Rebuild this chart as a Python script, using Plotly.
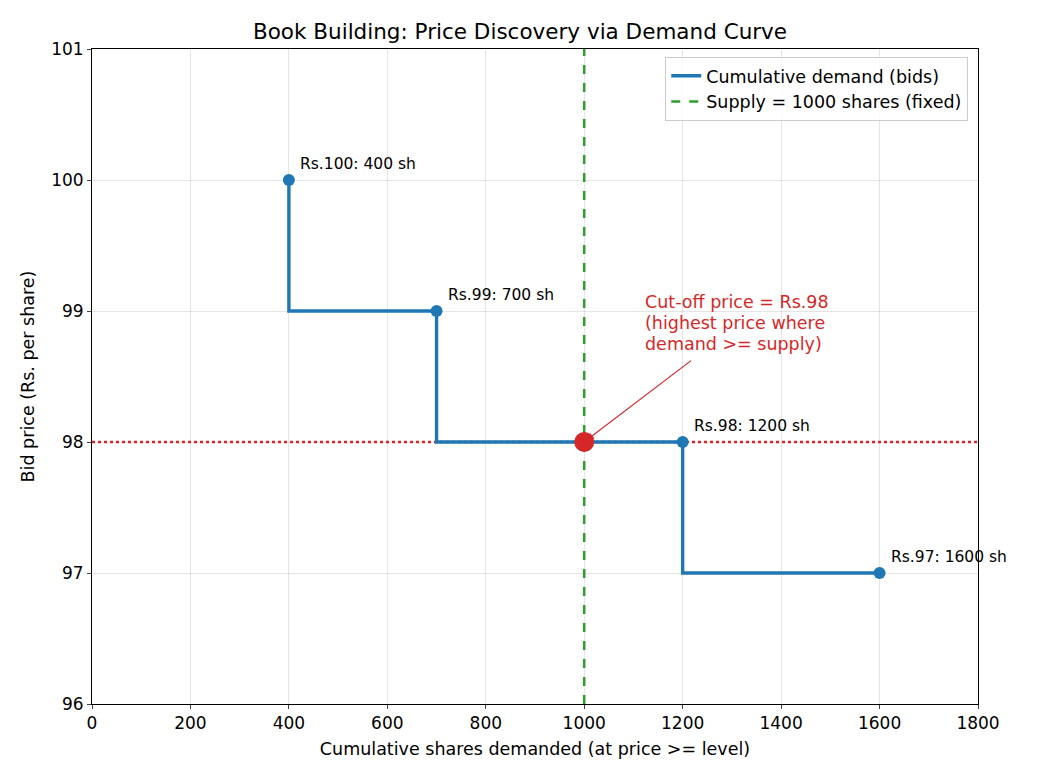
import plotly.graph_objects as go

# Data
cum_shares = [400, 700, 1200, 1600]
prices = [100, 99, 98, 97]
point_labels = ["Rs.100: 400 sh", "Rs.99: 700 sh", "Rs.98: 1200 sh", "Rs.97: 1600 sh"]
supply = 1000
cutoff_price = 98
x_ticks = [0, 200, 400, 600, 800, 1000, 1200, 1400, 1600, 1800]
y_ticks = [96, 97, 98, 99, 100, 101]

BLUE = "#1f77b4"
GREEN = "#2ca02c"
RED = "#d62728"
FONT = "DejaVu Sans"

fig = go.Figure()

# Cut-off horizontal dotted line
fig.add_trace(go.Scatter(x=[0, 1800], y=[cutoff_price, cutoff_price], mode="lines",
                         line=dict(color=RED, width=2.5, dash="dot"), showlegend=False,
                         hoverinfo="skip"))

# Demand step curve (line for legend)
fig.add_trace(go.Scatter(x=cum_shares, y=prices, mode="lines",
                         line=dict(color=BLUE, width=3.4, shape="vh"),
                         name="Cumulative demand (bids)"))
fig.add_trace(go.Scatter(x=cum_shares, y=prices, mode="markers",
                         marker=dict(color=BLUE, size=12), showlegend=False))

# Supply vertical dashed line
fig.add_trace(go.Scatter(x=[supply, supply], y=[96, 101], mode="lines",
                         line=dict(color=GREEN, width=2.5, dash="dash"),
                         name="Supply = 1000 shares (fixed)"))

# Cut-off point
fig.add_trace(go.Scatter(x=[supply], y=[cutoff_price], mode="markers",
                         marker=dict(color=RED, size=20), showlegend=False))

annotations = []
for x, y, t in zip(cum_shares, prices, point_labels):
    annotations.append(dict(x=x, y=y, xref="x", yref="y", text=t, showarrow=False,
                            xanchor="left", yanchor="bottom", xshift=9, yshift=5,
                            font=dict(family=FONT, size=15.5, color="black")))

cut_lines = ["Cut-off price = Rs.98", "(highest price where", "demand >= supply)"]
for i, line in enumerate(cut_lines):
    annotations.append(dict(x=1120, y=98.69, xref="x", yref="y", text=line,
                            showarrow=False, xanchor="left", yanchor="middle", align="left",
                            yshift=8 + 21 * (2 - i),
                            font=dict(family=FONT, size=17.5, color=RED)))
annotations.append(dict(x=supply, y=cutoff_price, xref="x", yref="y", text="",
                        showarrow=True, axref="x", ayref="y", ax=1220, ay=98.63,
                        arrowhead=2, arrowsize=1.2, arrowwidth=1.2, arrowcolor=RED,
                        standoff=3))

fig.update_layout(
    width=1040, height=780,
    margin=dict(l=92, r=62, t=49, b=76),
    paper_bgcolor="white", plot_bgcolor="white",
    font=dict(family=FONT, size=17, color="black"),
    title=dict(text="Book Building: Price Discovery via Demand Curve", x=0.5, xanchor="center",
               y=1 - 31 / 780, yanchor="middle", font=dict(size=21.5, family=FONT)),
    legend=dict(x=0.989, y=0.988, xanchor="right", yanchor="top",
                bgcolor="rgba(255,255,255,0.85)", bordercolor="#cccccc", borderwidth=1,
                font=dict(size=17.5, family=FONT), tracegroupgap=0,
                itemwidth=30),
    annotations=annotations,
    showlegend=True,
)

fig.update_xaxes(range=[0, 1800], tickvals=x_ticks, ticks="outside", ticklen=4,
                 showline=True, linecolor="black", linewidth=1, mirror=True,
                 showgrid=True, gridcolor="rgba(0,0,0,0.1)", gridwidth=1, zeroline=False,
                 title=dict(text="Cumulative shares demanded (at price >= level)",
                            font=dict(size=17.5), standoff=10),
                 tickfont=dict(size=17))
fig.update_yaxes(range=[96, 101], tickvals=y_ticks, ticks="outside", ticklen=4,
                 showline=True, linecolor="black", linewidth=1, mirror=True,
                 showgrid=True, gridcolor="rgba(0,0,0,0.1)", gridwidth=1, zeroline=False,
                 title=dict(text="Bid price (Rs. per share)", font=dict(size=17.5), standoff=12),
                 tickfont=dict(size=17))

fig.write_html("out.html")
